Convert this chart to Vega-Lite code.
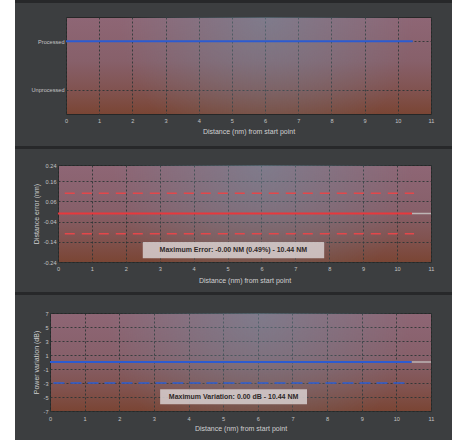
{
  "$schema": "https://vega.github.io/schema/vega-lite/v6.json",
  "background": "#3c3e40",
  "padding": 0,
  "spacing": 0,
  "config": {
    "font": "Liberation Sans",
    "axis": {
      "labelColor": "#c4c4c4",
      "labelFontSize": 5.6,
      "labelOverlap": false,
      "titleColor": "#d0d0d0",
      "titleFontSize": 7,
      "titleFontWeight": "normal",
      "ticks": false,
      "tickSize": 0,
      "domain": false,
      "grid": true,
      "gridColor": "#2c3535",
      "gridDash": [2, 2],
      "gridOpacity": 0.9,
      "gridWidth": 1,
      "labelPadding": 2
    }
  },
  "hconcat": [
    {"width": 15, "height": 440, "data": {"values": []}, "mark": "point", "view": {"fill": "#ffffff", "stroke": null}},
    {
      "spacing": 0,
      "vconcat": [
        {"width": 437, "height": 3, "data": {"values": []}, "mark": "point", "view": {"fill": "#27282a", "stroke": null}},
        {"width": 1, "height": 13, "data": {"values": []}, "mark": "point", "view": {"stroke": null}},
        {"spacing": 0, "hconcat": [
          {"width": 1, "height": 1, "data": {"values": []}, "mark": "point", "view": {"stroke": null}},
          {
            "width": 365, "height": 97,
            "view": {"stroke": "#262727", "fill": {"gradient": "linear", "x1": 0, "y1": 0, "x2": 0, "y2": 1, "stops": [{"offset": 0, "color": "#8e6675"}, {"offset": 0.45, "color": "#87606a"}, {"offset": 0.75, "color": "#815350"}, {"offset": 1, "color": "#7a4534"}]}},
            "layer": [
              {"data": {"values": [{}]},
               "mark": {"type": "rect", "fill": {"gradient": "radial", "x1": 0.55, "y1": 0.37, "r1": 0, "x2": 0.55, "y2": 0.37, "r2": 0.4, "stops": [{"offset": 0, "color": "rgba(115,140,158,0.55)"}, {"offset": 0.55, "color": "rgba(115,140,158,0.25)"}, {"offset": 1, "color": "rgba(115,140,158,0)"}]}},
               "encoding": {"x": {"value": 0}, "x2": {"value": "width"}, "y": {"value": 0}, "y2": {"value": "height"}}},
              {"data": {"values": [{"dist": 0, "status": 1}, {"dist": 10.45, "status": 1}]},
               "mark": {"type": "line", "color": "#2c5bd0", "strokeWidth": 2.2},
               "encoding": {
                 "x": {"field": "dist", "type": "quantitative", "scale": {"domain": [0, 11], "nice": false, "zero": false},
                       "axis": {"grid": true, "values": [0,1,2,3,4,5,6,7,8,9,10,11], "title": "Distance (nm) from start point", "labelFlush": false, "labelOverlap": false, "labelBaseline": "middle", "labelPadding": 6, "minExtent": 31, "maxExtent": 31, "titleY": 17.7, "titleBaseline": "middle"}},
                 "y": {"field": "status", "type": "quantitative", "scale": {"domain": [-0.5, 1.5], "nice": false, "zero": false},
                       "axis": {"grid": true, "values": [0, 1], "labelOverlap": false, "labelExpr": "datum.value == 1 ? 'Processed' : 'Unprocessed'", "title": null, "minExtent": 49, "maxExtent": 49}}
               }}
            ]
          }
        ]},
        {"width": 437, "height": 3, "data": {"values": []}, "mark": "point", "view": {"fill": "#27282a", "stroke": null}},
        {"width": 1, "height": 13, "data": {"values": []}, "mark": "point", "view": {"stroke": null}},
        {"spacing": 0, "hconcat": [
          {"width": 1, "height": 1, "data": {"values": []}, "mark": "point", "view": {"stroke": null}},
          {
            "width": 373, "height": 97,
            "view": {"stroke": "#262727", "fill": {"gradient": "linear", "x1": 0, "y1": 0, "x2": 0, "y2": 1, "stops": [{"offset": 0, "color": "#8e6675"}, {"offset": 0.45, "color": "#87606a"}, {"offset": 0.75, "color": "#815350"}, {"offset": 1, "color": "#7a4534"}]}},
            "data": {"values": [
              {"dist": 0, "val": 0, "s": "trace", "side": "t"},
              {"dist": 10.44, "val": 0, "s": "trace", "side": "t"},
              {"dist": 10.44, "val": 0, "s": "rest", "side": "r"},
              {"dist": 11, "val": 0, "s": "rest", "side": "r"},
              {"dist": 0.2, "val": 0.1, "s": "limit", "side": "upper"},
              {"dist": 10.5, "val": 0.1, "s": "limit", "side": "upper"},
              {"dist": 0.2, "val": -0.1, "s": "limit", "side": "lower"},
              {"dist": 10.5, "val": -0.1, "s": "limit", "side": "lower"},
              {"dist": 2.5, "dist2": 7.85, "val": -0.141, "val2": -0.222, "s": "box"},
              {"dist": 5.17, "val": -0.181, "s": "label", "label": "Maximum Error: -0.00 NM (0.49%) - 10.44 NM"}
            ]},
            "encoding": {
              "x": {"field": "dist", "type": "quantitative", "scale": {"domain": [0, 11], "nice": false, "zero": false},
                    "axis": {"grid": true, "values": [0,1,2,3,4,5,6,7,8,9,10,11], "title": "Distance (nm) from start point", "labelFlush": false, "labelOverlap": false, "labelBaseline": "middle", "labelPadding": 6, "minExtent": 29, "maxExtent": 29, "titleY": 18.3, "titleBaseline": "middle"}},
              "y": {"field": "val", "type": "quantitative", "scale": {"domain": [-0.24, 0.24], "nice": false, "zero": false},
                    "axis": {"grid": true, "values": [0.24, 0.16, 0.06, -0.04, -0.14, -0.24], "labelOverlap": false, "labelExpr": "replace(format(datum.value, '.2f'), '\u2212', '-')", "title": "Distance error (nm)", "minExtent": 41, "maxExtent": 41, "titleX": -22, "titleY": 48.5, "titleBaseline": "middle"}}
            },
            "layer": [
              {"data": {"values": [{}]},
               "mark": {"type": "rect", "fill": {"gradient": "radial", "x1": 0.55, "y1": 0.37, "r1": 0, "x2": 0.55, "y2": 0.37, "r2": 0.4, "stops": [{"offset": 0, "color": "rgba(115,140,158,0.55)"}, {"offset": 0.55, "color": "rgba(115,140,158,0.25)"}, {"offset": 1, "color": "rgba(115,140,158,0)"}]}},
               "encoding": {"x": {"value": 0}, "x2": {"value": "width"}, "y": {"value": 0}, "y2": {"value": "height"}}},
              {"transform": [{"filter": "datum.s === 'limit'"}],
               "mark": {"type": "line", "color": "#e4474a", "strokeWidth": 1.5, "strokeDash": [10, 7]},
               "encoding": {"detail": {"field": "side"}}},
              {"transform": [{"filter": "datum.s === 'rest'"}],
               "mark": {"type": "line", "color": "#bdb5b5", "strokeWidth": 1.5},
               "encoding": {}},
              {"transform": [{"filter": "datum.s === 'trace'"}],
               "mark": {"type": "line", "color": "#e8383c", "strokeWidth": 2},
               "encoding": {}},
              {"transform": [{"filter": "datum.s === 'box'"}],
               "mark": {"type": "rect", "fill": "#d8d0d0", "opacity": 0.85},
               "encoding": {"x2": {"field": "dist2"}, "y2": {"field": "val2"}}},
              {"transform": [{"filter": "datum.s === 'label'"}],
               "mark": {"type": "text", "font": "Liberation Sans", "fontSize": 7, "fontWeight": "bold", "color": "#2e2828", "align": "center", "baseline": "middle"},
               "encoding": {"text": {"field": "label"}}}
            ]
          }
        ]},
        {"width": 437, "height": 3, "data": {"values": []}, "mark": "point", "view": {"fill": "#27282a", "stroke": null}},
        {"width": 1, "height": 15, "data": {"values": []}, "mark": "point", "view": {"stroke": null}},
        {"spacing": 0, "hconcat": [
          {"width": 1, "height": 1, "data": {"values": []}, "mark": "point", "view": {"stroke": null}},
          {
            "width": 381, "height": 98,
            "view": {"stroke": "#262727", "fill": {"gradient": "linear", "x1": 0, "y1": 0, "x2": 0, "y2": 1, "stops": [{"offset": 0, "color": "#8e6675"}, {"offset": 0.45, "color": "#87606a"}, {"offset": 0.75, "color": "#815350"}, {"offset": 1, "color": "#7a4534"}]}},
            "data": {"values": [
              {"dist": 0, "val": 0, "s": "trace", "side": "t"},
              {"dist": 10.44, "val": 0, "s": "trace", "side": "t"},
              {"dist": 10.44, "val": 0, "s": "rest", "side": "r"},
              {"dist": 11, "val": 0, "s": "rest", "side": "r"},
              {"dist": 0.1, "val": -3, "s": "limit", "side": "lower"},
              {"dist": 10.28, "val": -3, "s": "limit", "side": "lower"},
              {"dist": 3.18, "dist2": 7.42, "val": -3.9, "val2": -6.04, "s": "box"},
              {"dist": 5.3, "val": -4.97, "s": "label", "label": "Maximum Variation: 0.00 dB - 10.44 NM"}
            ]},
            "encoding": {
              "x": {"field": "dist", "type": "quantitative", "scale": {"domain": [0, 11], "nice": false, "zero": false},
                    "axis": {"grid": true, "values": [0,1,2,3,4,5,6,7,8,9,10,11], "title": "Distance (nm) from start point", "labelFlush": false, "labelOverlap": false, "labelBaseline": "middle", "labelPadding": 7.2, "minExtent": 31, "maxExtent": 31, "titleY": 17.2, "titleBaseline": "middle"}},
              "y": {"field": "val", "type": "quantitative", "scale": {"domain": [-7, 7], "nice": false, "zero": false},
                    "axis": {"grid": true, "values": [7, 5, 3, 1, -1, -3, -5, -7], "labelOverlap": false, "labelExpr": "replace(format(datum.value, 'd'), '\u2212', '-')", "title": "Power variation (dB)", "minExtent": 33, "maxExtent": 33, "titleX": -14, "titleY": 49, "titleBaseline": "middle"}}
            },
            "layer": [
              {"data": {"values": [{}]},
               "mark": {"type": "rect", "fill": {"gradient": "radial", "x1": 0.55, "y1": 0.37, "r1": 0, "x2": 0.55, "y2": 0.37, "r2": 0.4, "stops": [{"offset": 0, "color": "rgba(115,140,158,0.55)"}, {"offset": 0.55, "color": "rgba(115,140,158,0.25)"}, {"offset": 1, "color": "rgba(115,140,158,0)"}]}},
               "encoding": {"x": {"value": 0}, "x2": {"value": "width"}, "y": {"value": 0}, "y2": {"value": "height"}}},
              {"transform": [{"filter": "datum.s === 'limit'"}],
               "mark": {"type": "line", "color": "#2f5fd2", "strokeWidth": 1.6, "strokeDash": [11, 6]},
               "encoding": {"detail": {"field": "side"}}},
              {"transform": [{"filter": "datum.s === 'rest'"}],
               "mark": {"type": "line", "color": "#bdb5b5", "strokeWidth": 1.5},
               "encoding": {}},
              {"transform": [{"filter": "datum.s === 'trace'"}],
               "mark": {"type": "line", "color": "#2c5bd0", "strokeWidth": 2},
               "encoding": {}},
              {"transform": [{"filter": "datum.s === 'box'"}],
               "mark": {"type": "rect", "fill": "#d8d0d0", "opacity": 0.85},
               "encoding": {"x2": {"field": "dist2"}, "y2": {"field": "val2"}}},
              {"transform": [{"filter": "datum.s === 'label'"}],
               "mark": {"type": "text", "font": "Liberation Sans", "fontSize": 7, "fontWeight": "bold", "color": "#2e2828", "align": "center", "baseline": "middle"},
               "encoding": {"text": {"field": "label"}}}
            ]
          }
        ]}
      ]
    }
  ]
}
